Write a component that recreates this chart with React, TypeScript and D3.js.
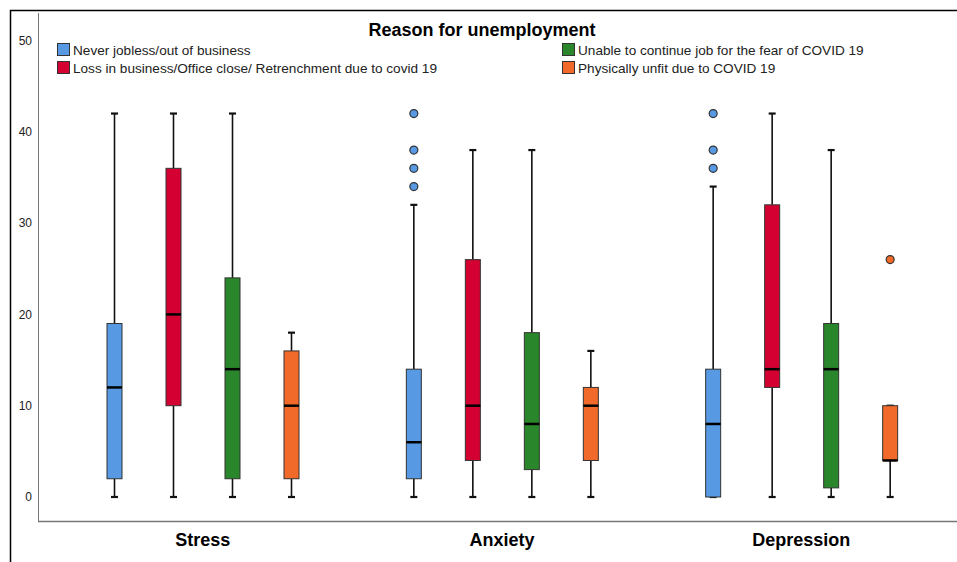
import React, { useEffect, useRef } from "react";
import * as d3 from "d3";

const categories = ["Stress", "Anxiety", "Depression"];
const groups = [
  "Never jobless/out of business",
  "Loss in business/Office close/ Retrenchment due to covid 19",
  "Unable to continue job for the fear of COVID 19",
  "Physically unfit due to COVID 19",
];
const groupColors = ["#5799e2", "#d50032", "#2a862a", "#f26a2a"];

// [min, q1, median, q3, max] per category
const neverJobless = [[0, 2, 12, 19, 42], [0, 2, 6, 14, 32], [0, 0, 8, 14, 34]];
const lossInBusiness = [[0, 10, 20, 36, 42], [0, 4, 10, 26, 38], [0, 12, 14, 32, 42]];
const unableToContinue = [[0, 2, 14, 24, 42], [0, 3, 8, 18, 38], [0, 1, 14, 19, 38]];
const physicallyUnfit = [[0, 2, 10, 16, 18], [0, 4, 10, 12, 16], [0, 4, 4, 10, 10]];

const neverJoblessOutliers = [[], [34, 36, 38, 42], [36, 38, 42]];
const lossInBusinessOutliers = [[], [], []];
const unableToContinueOutliers = [[], [], []];
const physicallyUnfitOutliers = [[], [], [26]];

const yTicks = [0, 10, 20, 30, 40, 50];

const stats = [neverJobless, lossInBusiness, unableToContinue, physicallyUnfit];
const outliers = [neverJoblessOutliers, lossInBusinessOutliers, unableToContinueOutliers, physicallyUnfitOutliers];

function Chart() {
  const ref = useRef<SVGSVGElement>(null);

  useEffect(() => {
    const svg = d3.select(ref.current);
    svg.selectAll("*").remove();
    const font = "'Liberation Sans', Arial, sans-serif";

    const y = d3.scaleLinear().domain([0, 50]).range([497, 40.5]);
    const x0 = d3.scaleBand().domain(categories).range([53, 951]);
    const x1 = d3.scaleBand().domain(groups).range([32, 268]);
    const boxW = 15;
    const capW = 7;

    // outer frame
    svg.append("path").attr("d", "M10.5,562 V10.5 H957")
      .attr("fill", "none").attr("stroke", "#000").attr("stroke-width", 1.5);

    // axis lines
    svg.append("line").attr("x1", 38.5).attr("x2", 38.5).attr("y1", 13).attr("y2", 521)
      .attr("stroke", "#777").attr("stroke-width", 1);
    svg.append("line").attr("x1", 38).attr("x2", 957).attr("y1", 521.5).attr("y2", 521.5)
      .attr("stroke", "#777").attr("stroke-width", 1.3);

    const yAxis = svg.append("g").attr("transform", "translate(38,0)")
      .call(d3.axisLeft(y).tickValues(yTicks).tickSize(0).tickPadding(6));
    yAxis.select(".domain").remove();
    yAxis.selectAll("text").attr("font-family", font).attr("font-size", 12).attr("fill", "#222");

    const xAxis = svg.append("g").attr("transform", "translate(0,521)")
      .call(d3.axisBottom(x0).tickSize(0).tickPadding(12));
    xAxis.select(".domain").remove();
    xAxis.selectAll("text").attr("font-family", font).attr("font-size", 18)
      .attr("font-weight", "bold").attr("fill", "#000");

    // boxes
    groups.forEach((g, gi) => {
      categories.forEach((c, ci) => {
        const [mn, q1, med, q3, mx] = stats[gi][ci];
        const cx = x0(c)! + x1(g)! + x1.bandwidth() / 2;
        const grp = svg.append("g");
        grp.append("line").attr("x1", cx).attr("x2", cx).attr("y1", y(mx)).attr("y2", y(q3))
          .attr("stroke", "#111").attr("stroke-width", 1.6);
        grp.append("line").attr("x1", cx).attr("x2", cx).attr("y1", y(q1)).attr("y2", y(mn))
          .attr("stroke", "#111").attr("stroke-width", 1.6);
        [mn, mx].forEach(v => {
          grp.append("line").attr("x1", cx - capW / 2).attr("x2", cx + capW / 2)
            .attr("y1", y(v)).attr("y2", y(v)).attr("stroke", "#111").attr("stroke-width", 2.2);
        });
        grp.append("rect").attr("x", cx - boxW / 2).attr("y", y(q3))
          .attr("width", boxW).attr("height", Math.max(y(q1) - y(q3), 0))
          .attr("fill", groupColors[gi]).attr("stroke", "#333").attr("stroke-width", 1);
        grp.append("line").attr("x1", cx - boxW / 2).attr("x2", cx + boxW / 2)
          .attr("y1", y(med)).attr("y2", y(med)).attr("stroke", "#000").attr("stroke-width", 2.5);
        grp.selectAll("circle").data(outliers[gi][ci]).join("circle")
          .attr("cx", cx).attr("cy", d => y(d)).attr("r", 4)
          .attr("fill", groupColors[gi]).attr("stroke", "#333").attr("stroke-width", 1.2);
      });
    });

    // legend
    svg.append("text").attr("x", 482).attr("y", 36).attr("text-anchor", "middle")
      .attr("font-family", font).attr("font-size", 18).attr("font-weight", "bold")
      .text("Reason for unemployment");
    const legendPos = [[57, 43], [57, 61], [562, 43], [562, 61]];
    groups.forEach((g, gi) => {
      const [lx, ly] = legendPos[gi];
      svg.append("rect").attr("x", lx + 0.5).attr("y", ly + 0.5).attr("width", 12).attr("height", 12)
        .attr("fill", groupColors[gi]).attr("stroke", "#333").attr("stroke-width", 1);
      svg.append("text").attr("x", lx + 16).attr("y", ly + 12)
        .attr("font-family", font).attr("font-size", 13.6).attr("fill", "#222").text(g);
    });
  }, []);

  return <svg ref={ref} width={957} height={562}
    style={{ position: "absolute", left: 0, top: 0, background: "#fff" }} />;
}

export default function App() {
  return <Chart />;
}
